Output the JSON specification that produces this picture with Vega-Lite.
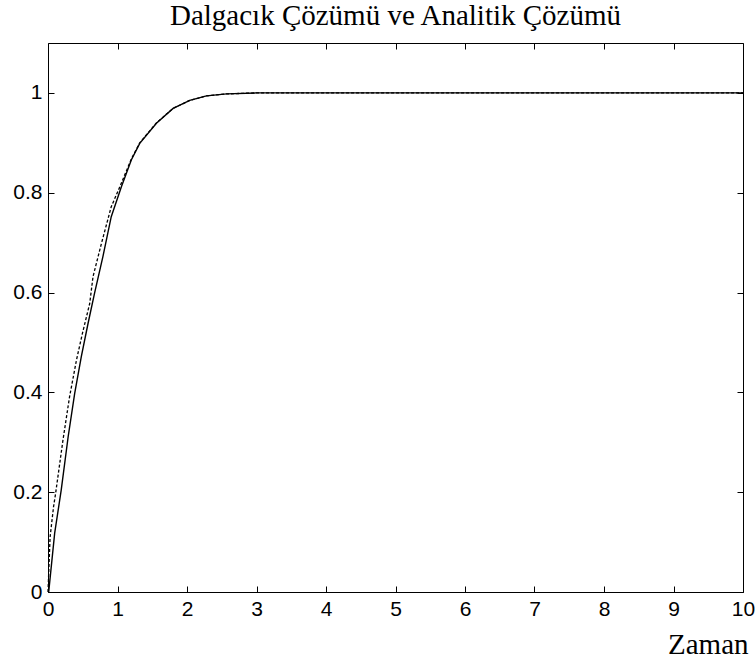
{
  "$schema": "https://vega.github.io/schema/vega-lite/v6.json",
  "autosize": "none",
  "width": 695,
  "height": 549,
  "padding": {"left": 48, "top": 43, "right": 13, "bottom": 69},
  "background": "white",
  "config": {
    "view": {"stroke": "black", "strokeWidth": 1},
    "axis": {"grid": false, "domain": false, "tickColor": "black", "tickSize": -6, "tickWidth": 1, "labelFont": "Liberation Sans", "labelFontSize": 21, "labelColor": "black", "labelFlush": false, "labelOverlap": false, "format": "~r"}
  },
  "title": {"text": "Dalgacık Çözümü ve Analitik Çözümü", "font": "Liberation Serif", "fontSize": 29, "fontWeight": "normal", "color": "black", "offset": -17, "baseline": "bottom", "anchor": "middle"},
  "data": {"values": [
    {"t": 0, "y": 0, "s": "Analitik"},
    {"t": 0.01, "y": 0.0, "s": "Analitik"},
    {"t": 0.096, "y": 0.118, "s": "Analitik"},
    {"t": 0.19, "y": 0.204, "s": "Analitik"},
    {"t": 0.29, "y": 0.311, "s": "Analitik"},
    {"t": 0.384, "y": 0.398, "s": "Analitik"},
    {"t": 0.48, "y": 0.472, "s": "Analitik"},
    {"t": 0.576, "y": 0.538, "s": "Analitik"},
    {"t": 0.67, "y": 0.599, "s": "Analitik"},
    {"t": 0.79, "y": 0.672, "s": "Analitik"},
    {"t": 0.91, "y": 0.752, "s": "Analitik"},
    {"t": 1.056, "y": 0.812, "s": "Analitik"},
    {"t": 1.2, "y": 0.866, "s": "Analitik"},
    {"t": 1.32, "y": 0.899, "s": "Analitik"},
    {"t": 1.56, "y": 0.939, "s": "Analitik"},
    {"t": 1.8, "y": 0.969, "s": "Analitik"},
    {"t": 2.04, "y": 0.985, "s": "Analitik"},
    {"t": 2.28, "y": 0.994, "s": "Analitik"},
    {"t": 2.57, "y": 0.998, "s": "Analitik"},
    {"t": 3.0, "y": 1.0, "s": "Analitik"},
    {"t": 10, "y": 1.0, "s": "Analitik"},
    {"t": 0, "y": 0, "s": "Dalgacik"},
    {"t": 0.03, "y": 0.11, "s": "Dalgacik"},
    {"t": 0.08, "y": 0.171, "s": "Dalgacik"},
    {"t": 0.11, "y": 0.198, "s": "Dalgacik"},
    {"t": 0.216, "y": 0.305, "s": "Dalgacik"},
    {"t": 0.31, "y": 0.391, "s": "Dalgacik"},
    {"t": 0.41, "y": 0.465, "s": "Dalgacik"},
    {"t": 0.495, "y": 0.518, "s": "Dalgacik"},
    {"t": 0.6, "y": 0.578, "s": "Dalgacik"},
    {"t": 0.648, "y": 0.632, "s": "Dalgacik"},
    {"t": 0.77, "y": 0.699, "s": "Dalgacik"},
    {"t": 0.91, "y": 0.772, "s": "Dalgacik"},
    {"t": 1.04, "y": 0.814, "s": "Dalgacik"},
    {"t": 1.2, "y": 0.868, "s": "Dalgacik"},
    {"t": 1.32, "y": 0.9, "s": "Dalgacik"},
    {"t": 1.56, "y": 0.94, "s": "Dalgacik"},
    {"t": 1.8, "y": 0.969, "s": "Dalgacik"},
    {"t": 2.04, "y": 0.985, "s": "Dalgacik"},
    {"t": 2.28, "y": 0.994, "s": "Dalgacik"},
    {"t": 2.57, "y": 0.998, "s": "Dalgacik"},
    {"t": 3.0, "y": 1.0, "s": "Dalgacik"},
    {"t": 10, "y": 1.0, "s": "Dalgacik"}
  ]},
  "layer": [
    {
      "mark": {"type": "line", "color": "black", "strokeWidth": 1.3, "strokeDash": [3, 2]},
      "transform": [{"filter": "datum.s === 'Dalgacik'"}],
      "encoding": {
        "x": {"field": "t", "type": "quantitative", "scale": {"domain": [0, 10], "nice": false}, "axis": {"orient": "bottom", "values": [0,1,2,3,4,5,6,7,8,9,10], "format": "d", "labelPadding": 12, "title": "Zaman", "titleFont": "Liberation Serif", "titleFontSize": 29, "titleFontWeight": "normal", "titleColor": "black", "titleAlign": "right", "titleAnchor": null, "titleX": 700, "titleY": 61, "titleBaseline": "alphabetic"}},
        "y": {"field": "y", "type": "quantitative", "scale": {"domain": [0, 1.1], "nice": false}, "axis": {"orient": "left", "values": [0, 0.2, 0.4, 0.6, 0.8, 1], "labelPadding": 12, "title": null}}
      }
    },
    {
      "mark": {"type": "line", "color": "black", "strokeWidth": 1.4},
      "transform": [{"filter": "datum.s === 'Analitik'"}],
      "encoding": {
        "x": {"field": "t", "type": "quantitative", "axis": {"orient": "top", "values": [0,1,2,3,4,5,6,7,8,9,10], "labels": false, "title": null}},
        "y": {"field": "y", "type": "quantitative", "axis": {"orient": "right", "values": [0, 0.2, 0.4, 0.6, 0.8, 1], "labels": false, "title": null}}
      }
    }
  ],
  "resolve": {"axis": {"x": "independent", "y": "independent"}}
}
